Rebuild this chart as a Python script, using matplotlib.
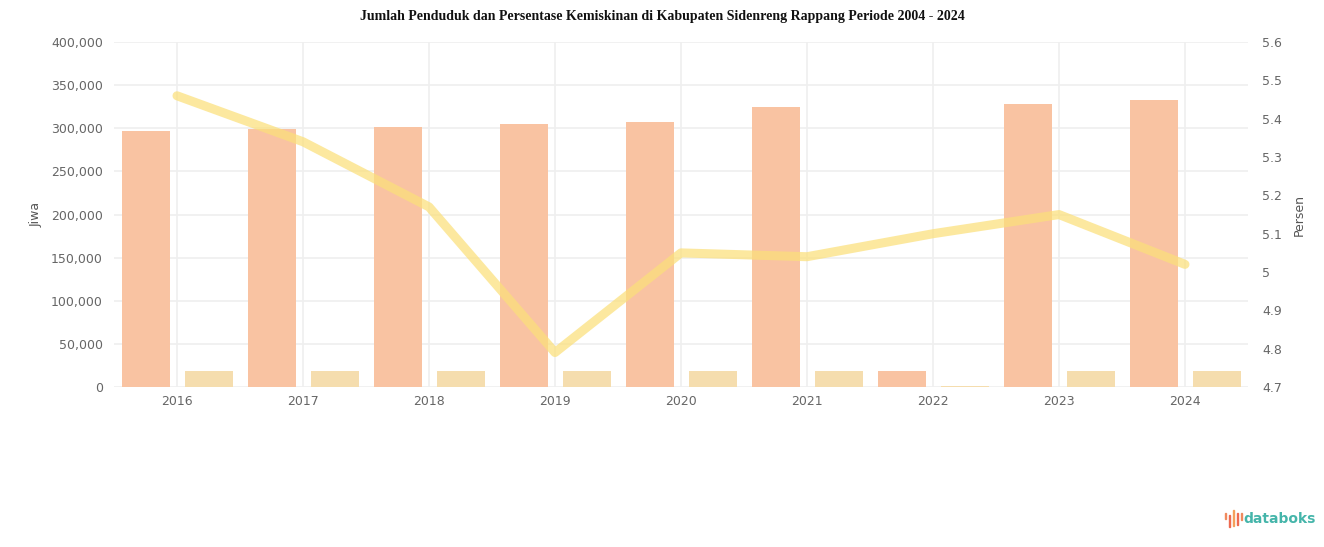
import numpy as np
import matplotlib
matplotlib.use("Agg")
import matplotlib.pyplot as plt
from matplotlib.patches import Rectangle

years = ["2016", "2017", "2018", "2019", "2020", "2021", "2022", "2023", "2024"]
penduduk = [296800, 299000, 301000, 305000, 307000, 325000, 18000, 328000, 333000]
miskin = [18000, 18000, 18000, 18000, 18000, 18000, 1500, 18000, 18000]
persen = [5.46, 5.34, 5.17, 4.79, 5.05, 5.04, 5.10, 5.15, 5.02]

left_ticks = np.arange(0, 400001, 50000)
right_ticks = [4.7, 4.8, 4.9, 5.0, 5.1, 5.2, 5.3, 5.4, 5.5, 5.6]

fig = plt.figure(figsize=(13.24, 5.47), dpi=100, facecolor="white")
ax = fig.add_axes([0.0861, 0.2925, 0.8565, 0.6305])
ax2 = ax.twinx()

x = np.arange(len(years))
w = 0.38
ax.bar(x - 0.245, penduduk, width=w, color="#F9C3A2", zorder=2)
ax.bar(x + 0.255, miskin, width=w, color="#F5DDAE", zorder=2)

ax.set_xlim(-0.5, len(years) - 0.5)
ax.set_ylim(0, 400000)
ax.set_yticks(left_ticks)
ax.set_yticklabels([f"{v:,}" for v in left_ticks])
ax.set_xticks(x)
ax.set_xticklabels(years)
ax.grid(True, color="#EFEFEF", linewidth=1.2, zorder=0)
ax.set_axisbelow(True)
ax.set_ylabel("Jiwa", fontsize=9, color="#555555", labelpad=6)

ax2.plot(x, persen, color="#FBE07A", linewidth=6.5, alpha=0.72,
         solid_joinstyle="round", solid_capstyle="round", zorder=3)
ax2.set_ylim(4.7, 5.6)
ax2.set_yticks(right_ticks)
ax2.set_yticklabels(["5" if abs(v - 5.0) < 1e-9 else f"{v:.1f}" for v in right_ticks])
ax2.set_ylabel("Persen", fontsize=9, color="#555555", labelpad=8)

for a in (ax, ax2):
    for s in a.spines.values():
        s.set_visible(False)
    a.tick_params(length=0, labelsize=9, colors="#666666")
ax.tick_params(axis="x", pad=6)
ax.tick_params(axis="y", pad=8)
ax2.tick_params(axis="y", pad=10)

fig.text(0.5, 0.982, "Jumlah Penduduk dan Persentase Kemiskinan di Kabupaten Sidenreng Rappang Periode 2004 - 2024",
         ha="center", va="top", fontsize=10, fontweight="bold",
         family="Liberation Serif", color="#111111")

# databoks logo
icon_h = [0.010, 0.022, 0.030, 0.022, 0.012]
icon_y = [0.052, 0.036, 0.038, 0.040, 0.050]
icon_c = ["#F08A5D", "#EE6A50", "#F5A05A", "#EE6A50", "#F08A5D"]
for i, (h, y0, c) in enumerate(zip(icon_h, icon_y, icon_c)):
    fig.patches.append(Rectangle((0.9250 + i * 0.0030, y0), 0.0013, h,
                                 transform=fig.transFigure, color=c))
fig.text(0.9390, 0.052, "databoks", ha="left", va="center", fontsize=10,
         color="#45B5AA", family="DejaVu Sans", fontweight="bold")

fig.savefig("out.png", dpi=100, facecolor="white")
